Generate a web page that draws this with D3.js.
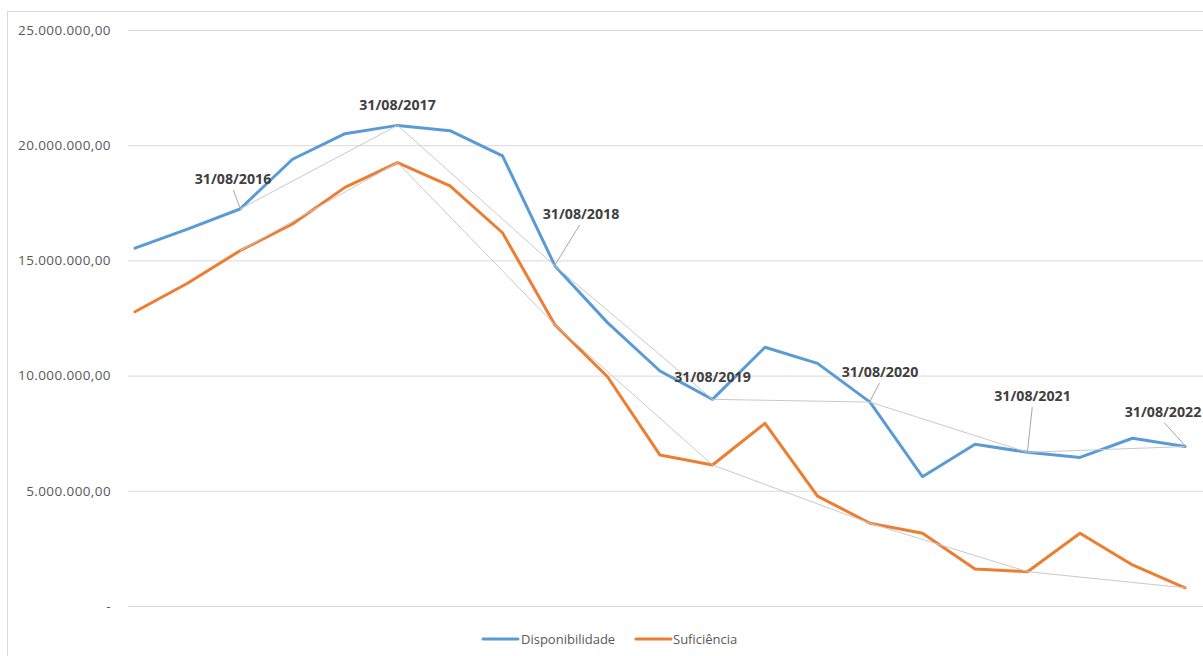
<!DOCTYPE html>
<html>
<head>
<meta charset="utf-8">
<script src="https://cdn.jsdelivr.net/npm/d3@7"></script>
<style>
  html, body { margin: 0; padding: 0; background: #fff; }
  svg { display: block; }
</style>
</head>
<body>
<svg id="chart" width="1203" height="656"></svg>
<script>
// ---- data ----
const categories = [
  "31/12/2015","30/04/2016","31/08/2016","31/12/2016","30/04/2017","31/08/2017",
  "31/12/2017","30/04/2018","31/08/2018","31/12/2018","30/04/2019","31/08/2019",
  "31/12/2019","30/04/2020","31/08/2020","31/12/2020","30/04/2021","31/08/2021",
  "31/12/2021","30/04/2022","31/08/2022"
];
const disponibilidade = [
  15530000, 16360000, 17230000, 19390000, 20500000, 20860000,
  20630000, 19540000, 14760000, 12300000, 10200000, 8970000,
  11230000, 10530000, 8850000, 5610000, 7020000, 6670000,
  6450000, 7280000, 6920000
];
const suficiencia = [
  12770000, 14010000, 15420000, 16580000, 18170000, 19240000,
  18230000, 16200000, 12200000, 9950000, 6550000, 6120000,
  7930000, 4770000, 3590000, 3160000, 1610000, 1490000,
  3160000, 1780000, 790000
];
const yTicks = [0, 5000000, 10000000, 15000000, 20000000, 25000000];
const seriesNames = ["Disponibilidade", "Suficiência"];
// annual reference dates (labelled on the Disponibilidade line)
const annualDates = ["31/08/2016","31/08/2017","31/08/2018","31/08/2019","31/08/2020","31/08/2021","31/08/2022"];
// label placement offsets relative to the point [dx, dy]
const labelOffsets = [[-7,-25],[0,-15],[26,-47],[0,-17],[10,-25],[5,-51],[-22,-30]];
const leaderLines = [true,false,true,false,true,true,true];

// ---- layout ----
const svg = d3.select("#chart");
const colors = ["#5B9BD5", "#ED7D31"];
const gridLeft = 128, gridRight = 1210;

const x = d3.scalePoint().domain(categories).range([135, 1185]);
const y = d3.scaleLinear().domain([0, 25000000]).range([606, 30]);

// outer chart border
svg.append("rect")
  .attr("x", 7.5).attr("y", 11.5).attr("width", 1300).attr("height", 700)
  .attr("fill", "none").attr("stroke", "#d9d9d9").attr("stroke-width", 1);

// y axis with gridlines
const fmt = v => v === 0 ? "-" :
  d3.format(",.2f")(v).replace(/,/g, "#").replace(".", ",").replace(/#/g, ".");
const yAxis = d3.axisLeft(y).tickValues(yTicks).tickSize(-(gridRight - gridLeft)).tickPadding(17).tickFormat(fmt);
const gy = svg.append("g").attr("transform", `translate(${gridLeft},0)`).call(yAxis);
gy.select(".domain").remove();
gy.selectAll(".tick line").attr("stroke", "#d9d9d9").attr("stroke-width", 1);
gy.selectAll(".tick text")
  .attr("fill", "#595959")
  .style("font-family", "'Open Sans', sans-serif")
  .style("font-size", "13.5px")
  .style("letter-spacing", "0.4px");

// series lines
const line = d3.line().x((d, i) => x(categories[i])).y(d => y(d));
[disponibilidade, suficiencia].forEach((s, k) => {
  svg.append("path")
    .datum(s)
    .attr("d", line)
    .attr("fill", "none")
    .attr("stroke", colors[k])
    .attr("stroke-width", 3)
    .attr("stroke-linejoin", "round")
    .attr("stroke-linecap", "round");
});

// thin grey lines connecting annual points
const annualIdx = annualDates.map(d => categories.indexOf(d));
[disponibilidade, suficiencia].forEach(s => {
  const pts = annualIdx.map(i => [x(categories[i]), y(s[i])]);
  svg.append("path")
    .attr("d", d3.line()(pts))
    .attr("fill", "none")
    .attr("stroke", "#c9c9c9")
    .attr("stroke-width", 1);
});

// data labels
annualIdx.forEach((i, k) => {
  const px = x(categories[i]), py = y(disponibilidade[i]);
  const [dx, dy] = labelOffsets[k];
  if (leaderLines[k]) {
    svg.append("line")
      .attr("x1", px + dx * 0.95).attr("y1", py + dy + 6)
      .attr("x2", px).attr("y2", py - 1)
      .attr("stroke", "#a6a6a6").attr("stroke-width", 1);
  }
  svg.append("text")
    .attr("x", px + dx).attr("y", py + dy)
    .attr("text-anchor", "middle")
    .attr("fill", "#404040")
    .style("font-family", "'Open Sans', sans-serif")
    .style("font-weight", "bold")
    .style("font-size", "14.2px")
    .text(annualDates[k]);
});

// legend
const legend = svg.append("g");
const legendItems = [{x: 483, tx: 521}, {x: 636, tx: 673}];
seriesNames.forEach((name, k) => {
  legend.append("line")
    .attr("x1", legendItems[k].x).attr("x2", legendItems[k].x + 35)
    .attr("y1", 639).attr("y2", 639)
    .attr("stroke", colors[k]).attr("stroke-width", 3).attr("stroke-linecap", "round");
  legend.append("text")
    .attr("x", legendItems[k].tx).attr("y", 643.5)
    .attr("fill", "#595959")
    .style("font-family", "'Open Sans', sans-serif")
    .style("font-size", "13px")
    .text(name);
});
</script>
</body>
</html>
